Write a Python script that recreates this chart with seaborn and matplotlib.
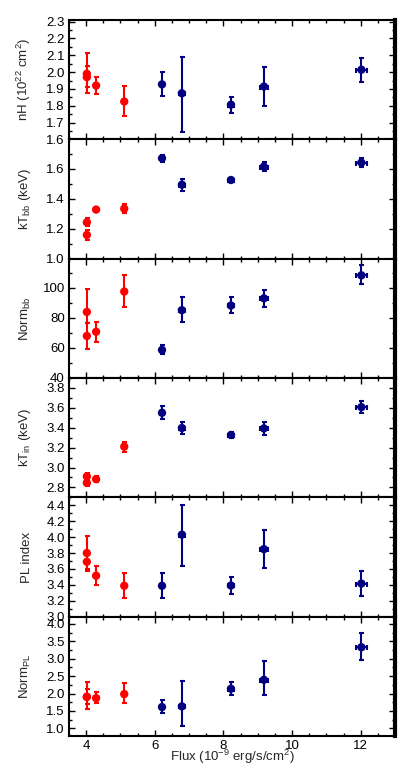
import numpy as np
import pandas as pd
import matplotlib
matplotlib.use("Agg")
import matplotlib.pyplot as plt
import seaborn as sns
from matplotlib.ticker import MultipleLocator, FormatStrFormatter

# flux values (10^-9 erg/s/cm^2)
red_flux = [4.02, 4.02, 4.29, 5.11]
blue_flux = [6.21, 6.79, 8.22, 9.18, 12.02]
blue_flux_err = [0.07, 0.08, 0.10, 0.11, 0.15]

# nH
nh_red = [1.99, 1.97, 1.92, 1.825]
nh_red_lo = [1.91, 1.874, 1.872, 1.739]
nh_red_hi = [2.115, 2.037, 1.968, 1.915]
nh_blue = [1.927, 1.874, 1.806, 1.914, 2.014]
nh_blue_lo = [1.857, 1.645, 1.759, 1.796, 1.943]
nh_blue_hi = [2.002, 2.088, 1.851, 2.031, 2.084]

# kT_bb
ktbb_red = [1.242, 1.158, 1.327, 1.333]
ktbb_red_lo = [1.215, 1.125, 1.315, 1.303]
ktbb_red_hi = [1.27, 1.19, 1.34, 1.364]
ktbb_blue = [1.669, 1.493, 1.524, 1.613, 1.640]
ktbb_blue_lo = [1.645, 1.449, 1.512, 1.583, 1.611]
ktbb_blue_hi = [1.693, 1.533, 1.536, 1.643, 1.669]

# Norm_bb
nbb_red = [84.0, 68.0, 70.8, 97.6]
nbb_red_lo = [76.5, 59.5, 64.2, 87.4]
nbb_red_hi = [99.6, 76.5, 77.2, 108.8]
nbb_blue = [58.7, 85.2, 88.3, 93.1, 108.4]
nbb_blue_lo = [56.0, 77.5, 83.0, 87.6, 102.4]
nbb_blue_hi = [62.0, 94.0, 93.8, 98.9, 115.0]

# kT_in
ktin_red = [2.91, 2.845, 2.883, 3.21]
ktin_red_lo = [2.88, 2.815, 2.853, 3.153]
ktin_red_hi = [2.94, 2.875, 2.913, 3.26]
ktin_blue = [3.55, 3.397, 3.327, 3.393, 3.607]
ktin_blue_lo = [3.483, 3.334, 3.297, 3.325, 3.545]
ktin_blue_hi = [3.617, 3.46, 3.357, 3.461, 3.669]

# PL index
pl_red = [3.80, 3.69, 3.515, 3.388]
pl_red_lo = [3.60, 3.57, 3.396, 3.235]
pl_red_hi = [4.01, 3.80, 3.635, 3.553]
pl_blue = [3.388, 4.031, 3.392, 3.849, 3.416]
pl_blue_lo = [3.239, 3.643, 3.285, 3.61, 3.26]
pl_blue_hi = [3.548, 4.40, 3.499, 4.089, 3.569]

# Norm_PL
npl_red = [1.91, 1.90, 1.87, 1.985]
npl_red_lo = [1.55, 1.70, 1.727, 1.727]
npl_red_hi = [2.33, 2.12, 2.05, 2.31]
npl_blue = [1.612, 1.631, 2.138, 2.395, 3.331]
npl_blue_lo = [1.44, 1.06, 1.947, 1.966, 2.97]
npl_blue_hi = [1.82, 2.36, 2.32, 2.93, 3.75]

panels = [
    ("nH (10$^{22}$ cm$^{2}$)", nh_red, nh_red_lo, nh_red_hi, nh_blue, nh_blue_lo, nh_blue_hi),
    ("kT$_{\\rm bb}$ (keV)", ktbb_red, ktbb_red_lo, ktbb_red_hi, ktbb_blue, ktbb_blue_lo, ktbb_blue_hi),
    ("Norm$_{\\rm bb}$", nbb_red, nbb_red_lo, nbb_red_hi, nbb_blue, nbb_blue_lo, nbb_blue_hi),
    ("kT$_{\\rm in}$ (keV)", ktin_red, ktin_red_lo, ktin_red_hi, ktin_blue, ktin_blue_lo, ktin_blue_hi),
    ("PL index", pl_red, pl_red_lo, pl_red_hi, pl_blue, pl_blue_lo, pl_blue_hi),
    ("Norm$_{\\rm PL}$", npl_red, npl_red_lo, npl_red_hi, npl_blue, npl_blue_lo, npl_blue_hi),
]
ylims = [(1.6, 2.31), (1.0, 1.795), (40, 119.5), (2.7, 3.9), (3.0, 4.5), (0.78, 4.21)]
ysteps = [0.1, 0.2, 20, 0.2, 0.2, 0.5]
yfmts = ["%.1f", "%.1f", "%.0f", "%.1f", "%.1f", "%.1f"]

RED = "#ff0000"
BLUE = "#000080"

sns.set_style("ticks")
plt.rcParams["font.family"] = ["Liberation Sans", "DejaVu Sans"]
plt.rcParams["mathtext.fontset"] = "custom"
plt.rcParams["mathtext.rm"] = "Liberation Sans"
plt.rcParams["font.size"] = 9.5

fig, axes = plt.subplots(6, 1, figsize=(4.15, 7.79), dpi=100, sharex=True)
fig.subplots_adjust(left=69 / 415, right=395 / 415, top=1 - 20 / 779,
                    bottom=1 - 736 / 779, hspace=0)

for ax, (label, r, rlo, rhi, b, blo, bhi), ylim, step, fmt in zip(
        axes, panels, ylims, ysteps, yfmts):
    r = np.array(r); b = np.array(b)
    r_err = [r - np.array(rlo), np.array(rhi) - r]
    b_err = [b - np.array(blo), np.array(bhi) - b]
    ax.errorbar(red_flux, r, yerr=r_err, fmt="none", ecolor=RED,
                elinewidth=1.5, capsize=1.8, capthick=1.5, zorder=2)
    ax.errorbar(blue_flux, b, yerr=b_err, xerr=blue_flux_err, fmt="none",
                ecolor=BLUE, elinewidth=1.5, capsize=1.8, capthick=1.5, zorder=2)
    df = pd.DataFrame({"flux": red_flux + blue_flux,
                       "val": list(r) + list(b),
                       "grp": ["low"] * len(red_flux) + ["high"] * len(blue_flux)})
    sns.scatterplot(data=df, x="flux", y="val", hue="grp",
                    palette={"low": RED, "high": BLUE}, marker="o", s=36,
                    linewidth=0, legend=False, ax=ax, zorder=3)
    ax.set_xlim(3.5, 13)
    ax.set_ylim(*ylim)
    ax.yaxis.set_major_locator(MultipleLocator(step))
    ax.yaxis.set_minor_locator(MultipleLocator(step / 2))
    ax.yaxis.set_major_formatter(FormatStrFormatter(fmt))
    ax.xaxis.set_major_locator(MultipleLocator(2))
    ax.xaxis.set_minor_locator(MultipleLocator(0.5))
    ax.tick_params(which="both", direction="in", top=True, right=True,
                   width=1.0, labelsize=9.5, color="black", labelcolor="black")
    ax.tick_params(which="major", length=4, pad=3)
    ax.tick_params(which="minor", length=2)
    ax.set_ylabel(label, fontsize=9.5)
    ax.yaxis.set_label_coords(-0.11, 0.5)
    ax.set_xlabel("")
    for name, sp in ax.spines.items():
        sp.set_color("black")
        sp.set_linewidth(3 if name == "right" else 1.5)

axes[-1].set_xlabel("Flux (10$^{-9}$ erg/s/cm$^{2}$)", fontsize=9.5, labelpad=-3)

fig.savefig("out.png", dpi=100, facecolor="white")
